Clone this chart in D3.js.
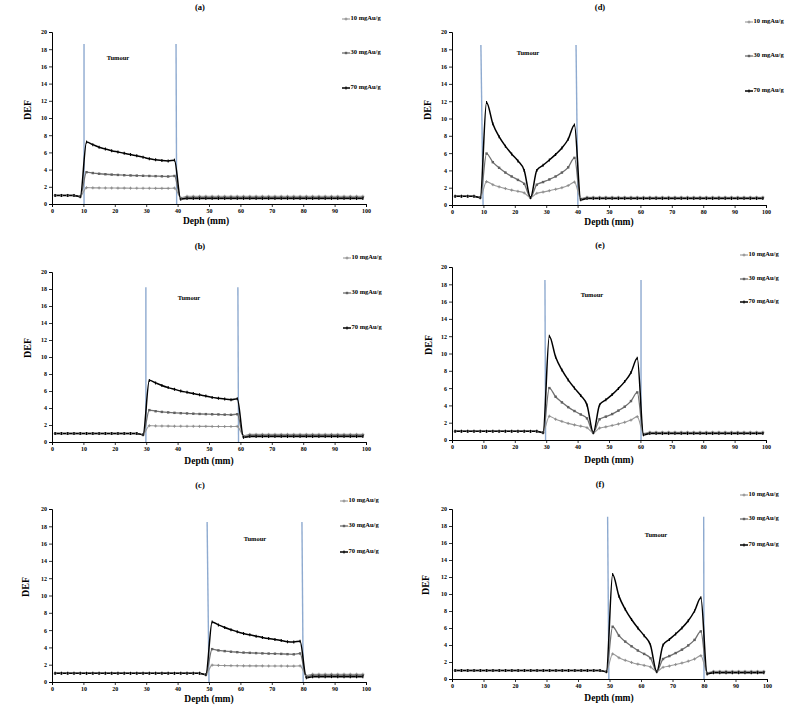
<!DOCTYPE html>
<html><head><meta charset="utf-8">
<script src="https://cdn.jsdelivr.net/npm/d3@7/dist/d3.min.js"></script>
<style>
html,body{margin:0;padding:0;background:#fff;}
svg{display:block;}
text{font-family:"Liberation Serif","Times New Roman",serif;font-weight:bold;fill:#000;}
</style></head>
<body>
<svg id="chart" width="800" height="708"></svg>
<script>
// ---------- data ----------
const depth = [1,3,5,7,9,11,13,15,17,19, 21,23,25,27,29,31,33,35,37,39,
               41,43,45,47,49,51,53,55,57,59, 61,63,65,67,69,71,73,75,77,79,
               81,83,85,87,89,91,93,95,97,99];
const seriesNames = ["10 mgAu/g","30 mgAu/g","70 mgAu/g"];
const xTicks = [0,10,20,30,40,50,60,70,80,90,100];
const yTicks = [0,2,4,6,8,10,12,14,16,18,20];
const panelLabels = ["(a)","(b)","(c)","(d)","(e)","(f)"];
const xAxisTitles = ["Deph (mm)","Depth (mm)","Depth (mm)","Depth (mm)","Depth (mm)","Depth (mm)"];

// Panel (a): tumour 10-40
const a10 = [1,1,1,1,0.88,1.9,1.88,1.87,1.86,1.86,
             1.85,1.85,1.84,1.84,1.83,1.83,1.82,1.82,1.82,1.85,
             0.75,0.9,0.9,0.9,0.9,0.9,0.9,0.9,0.9,0.9,
             0.9,0.9,0.9,0.9,0.9,0.9,0.9,0.9,0.9,0.9,
             0.9,0.9,0.9,0.9,0.9,0.9,0.9,0.9,0.9,0.9];
const a30 = [1,1,1,1,0.85,3.7,3.6,3.52,3.46,3.42,
             3.38,3.35,3.32,3.3,3.28,3.26,3.24,3.22,3.2,3.26,
             0.6,0.78,0.78,0.78,0.78,0.78,0.78,0.78,0.78,0.78,
             0.78,0.78,0.78,0.78,0.78,0.78,0.78,0.78,0.78,0.78,
             0.78,0.78,0.78,0.78,0.78,0.78,0.78,0.78,0.78,0.78];
const a70 = [1,1,1,1,0.85,7.2,6.9,6.6,6.4,6.2,
             6.05,5.9,5.75,5.6,5.45,5.25,5.15,5.05,5.0,5.1,
             0.55,0.65,0.65,0.65,0.65,0.65,0.65,0.65,0.65,0.65,
             0.65,0.65,0.65,0.65,0.65,0.65,0.65,0.65,0.65,0.65,
             0.65,0.65,0.65,0.65,0.65,0.65,0.65,0.65,0.65,0.65];
// Panel (b): tumour 30-60
const b10 = [1,1,1,1,1,1,1,1,1,1,
             1,1,1,1,0.88,1.92,1.89,1.88,1.87,1.86,
             1.86,1.85,1.85,1.84,1.84,1.83,1.83,1.82,1.82,1.84,
             0.75,0.9,0.9,0.9,0.9,0.9,0.9,0.9,0.9,0.9,
             0.9,0.9,0.9,0.9,0.9,0.9,0.9,0.9,0.9,0.9];
const b30 = [1,1,1,1,1,1,1,1,1,1,
             1,1,1,1,0.85,3.75,3.62,3.54,3.48,3.43,
             3.39,3.36,3.33,3.3,3.28,3.26,3.24,3.22,3.2,3.27,
             0.6,0.78,0.78,0.78,0.78,0.78,0.78,0.78,0.78,0.78,
             0.78,0.78,0.78,0.78,0.78,0.78,0.78,0.78,0.78,0.78];
const b70 = [1,1,1,1,1,1,1,1,1,1,
             1,1,1,1,0.85,7.25,6.95,6.65,6.4,6.2,
             6.0,5.85,5.7,5.55,5.4,5.25,5.15,5.05,4.98,5.1,
             0.55,0.65,0.65,0.65,0.65,0.65,0.65,0.65,0.65,0.65,
             0.65,0.65,0.65,0.65,0.65,0.65,0.65,0.65,0.65,0.65];
// Panel (c): tumour 50-80
const c10 = [1,1,1,1,1,1,1,1,1,1,
             1,1,1,1,1,1,1,1,1,1,
             1,1,1,1,0.88,1.95,1.92,1.9,1.89,1.88,
             1.87,1.87,1.86,1.86,1.85,1.85,1.85,1.84,1.84,1.87,
             0.75,0.9,0.9,0.9,0.9,0.9,0.9,0.9,0.9,0.9];
const c30 = [1,1,1,1,1,1,1,1,1,1,
             1,1,1,1,1,1,1,1,1,1,
             1,1,1,1,0.85,3.8,3.65,3.57,3.5,3.45,
             3.4,3.37,3.34,3.31,3.29,3.27,3.25,3.22,3.2,3.3,
             0.6,0.78,0.78,0.78,0.78,0.78,0.78,0.78,0.78,0.78];
const c70 = [1,1,1,1,1,1,1,1,1,1,
             1,1,1,1,1,1,1,1,1,1,
             1,1,1,1,0.85,6.95,6.6,6.3,6.05,5.8,
             5.6,5.45,5.3,5.15,5.02,4.92,4.8,4.65,4.62,4.72,
             0.5,0.62,0.62,0.62,0.62,0.62,0.62,0.62,0.62,0.62];
// Panel (d): tumour 10-40, minimum at 25
const d10 = [1,1,1,1,0.88,2.7,2.35,2.1,1.9,1.72,
             1.58,1.4,0.85,1.35,1.5,1.65,1.82,2.0,2.25,2.65,
             0.75,0.9,0.9,0.9,0.9,0.9,0.9,0.9,0.9,0.9,
             0.9,0.9,0.9,0.9,0.9,0.9,0.9,0.9,0.9,0.9,
             0.9,0.9,0.9,0.9,0.9,0.9,0.9,0.9,0.9,0.9];
const d30 = [1,1,1,1,0.85,5.95,4.95,4.3,3.75,3.3,
             2.9,2.45,0.85,2.35,2.65,2.95,3.3,3.75,4.35,5.45,
             0.65,0.82,0.82,0.82,0.82,0.82,0.82,0.82,0.82,0.82,
             0.82,0.82,0.82,0.82,0.82,0.82,0.82,0.82,0.82,0.82,
             0.82,0.82,0.82,0.82,0.82,0.82,0.82,0.82,0.82,0.82];
const d70 = [1,1,1,1,0.85,11.85,9.4,7.9,6.8,5.9,
             5.1,4.0,0.85,4.0,4.6,5.2,5.85,6.6,7.6,9.25,
             0.6,0.75,0.75,0.75,0.75,0.75,0.75,0.75,0.75,0.75,
             0.75,0.75,0.75,0.75,0.75,0.75,0.75,0.75,0.75,0.75,
             0.75,0.75,0.75,0.75,0.75,0.75,0.75,0.75,0.75,0.75];
// Panel (e): tumour 30-60, minimum at 45
const e10 = [1,1,1,1,1,1,1,1,1,1,
             1,1,1,1,0.88,2.75,2.4,2.15,1.92,1.75,
             1.6,1.42,0.85,1.38,1.52,1.68,1.85,2.05,2.3,2.7,
             0.75,0.9,0.9,0.9,0.9,0.9,0.9,0.9,0.9,0.9,
             0.9,0.9,0.9,0.9,0.9,0.9,0.9,0.9,0.9,0.9];
const e30 = [1,1,1,1,1,1,1,1,1,1,
             1,1,1,1,0.85,6.0,5.0,4.35,3.8,3.35,
             2.95,2.5,0.85,2.4,2.7,3.0,3.4,3.85,4.5,5.5,
             0.65,0.82,0.82,0.82,0.82,0.82,0.82,0.82,0.82,0.82,
             0.82,0.82,0.82,0.82,0.82,0.82,0.82,0.82,0.82,0.82];
const e70 = [1,1,1,1,1,1,1,1,1,1,
             1,1,1,1,0.85,12.0,9.6,8.1,6.95,6.0,
             5.15,4.05,0.85,4.05,4.65,5.25,5.95,6.75,7.8,9.45,
             0.6,0.75,0.75,0.75,0.75,0.75,0.75,0.75,0.75,0.75,
             0.75,0.75,0.75,0.75,0.75,0.75,0.75,0.75,0.75,0.75];
// Panel (f): tumour 50-80, minimum at 65
const f10 = [1,1,1,1,1,1,1,1,1,1,
             1,1,1,1,1,1,1,1,1,1,
             1,1,1,1,0.88,2.95,2.5,2.2,1.95,1.75,
             1.6,1.42,0.9,1.38,1.52,1.7,1.88,2.1,2.35,2.75,
             0.75,0.9,0.9,0.9,0.9,0.9,0.9,0.9,0.9,0.9];
const f30 = [1,1,1,1,1,1,1,1,1,1,
             1,1,1,1,1,1,1,1,1,1,
             1,1,1,1,0.85,6.15,5.1,4.4,3.85,3.35,
             2.95,2.45,0.9,2.35,2.7,3.05,3.45,3.95,4.6,5.6,
             0.65,0.82,0.82,0.82,0.82,0.82,0.82,0.82,0.82,0.82];
const f70 = [1,1,1,1,1,1,1,1,1,1,
             1,1,1,1,1,1,1,1,1,1,
             1,1,1,1,0.85,12.3,9.75,8.2,7.0,6.0,
             5.1,4.0,0.85,4.0,4.65,5.3,6.0,6.85,8.0,9.55,
             0.6,0.75,0.75,0.75,0.75,0.75,0.75,0.75,0.75,0.75];

// tumour boundary lines: [x at top, x at bottom], top DEF value
const boundA = [[10.2,10.2],[39.5,39.7]], boundTopA = 18.6;
const boundB = [[29.9,29.9],[59.2,59.4]], boundTopB = 18.2;
const boundC = [[49.4,50.0],[79.6,80.0]], boundTopC = 18.5;
const boundD = [[9.2,9.9],[39.5,40.1]], boundTopD = 18.5;
const boundE = [[29.6,29.8],[60.2,60.2]], boundTopE = 18.5;
const boundF = [[49.4,49.8],[79.9,80.0]], boundTopF = 19.1;

// ---------- layout (pixel positions) ----------
const layout = [
 {s:[a10,a30,a70], b:boundA, bt:boundTopA, L:52, R:366, T:32,  B:204, title:[200,8],   leg:[342,[19,53,88]],    tum:[118,59],  def:[29,110], xl:[206,222]},
 {s:[b10,b30,b70], b:boundB, bt:boundTopB, L:52, R:366, T:272, B:442, title:[200,247], leg:[343,[258,293,328]], tum:[189,299], def:[29,348], xl:[209,462]},
 {s:[c10,c30,c70], b:boundC, bt:boundTopC, L:52, R:366, T:509, B:682, title:[200,486], leg:[340,[501,526,552]], tum:[255,540], def:[27,587], xl:[209,700]},
 {s:[d10,d30,d70], b:boundD, bt:boundTopD, L:452,R:766, T:32,  B:205, title:[600,8],   leg:[745,[22,56,91]],    tum:[528,54],  def:[429,110],xl:[609,223]},
 {s:[e10,e30,e70], b:boundE, bt:boundTopE, L:452,R:766, T:267, B:440, title:[600,246], leg:[740,[255,279,302]], tum:[592,296], def:[430,345],xl:[609,461]},
 {s:[f10,f30,f70], b:boundF, bt:boundTopF, L:452,R:767, T:509, B:679, title:[600,485], leg:[740,[495,519,545]], tum:[656,536], def:[427,585],xl:[609,699]}
];

const styles = [
 {color:"#9a9a9a", width:1.1, marker:"plus",   mcolor:"#8a8a8a"},
 {color:"#707070", width:1.3, marker:"square", mcolor:"#606060"},
 {color:"#000000", width:1.5, marker:"tick",   mcolor:"#000000"}
];

const svg = d3.select("#chart");

function drawMarker(g, kind, cx, cy, color){
  if(kind==="plus"){
    g.append("path").attr("d",`M${cx-1.5},${cy}H${cx+1.5}M${cx},${cy-1.5}V${cy+1.5}`)
     .attr("stroke",color).attr("stroke-width",0.9).attr("fill","none");
  } else if(kind==="square"){
    g.append("rect").attr("x",cx-1.2).attr("y",cy-1.2).attr("width",2.4).attr("height",2.4)
     .attr("fill",color);
  } else {
    g.append("path").attr("d",`M${cx},${cy-1.5}V${cy+1.5}`)
     .attr("stroke",color).attr("stroke-width",1.1).attr("fill","none");
  }
}

layout.forEach((p,pi)=>{
  const g = svg.append("g");
  const x = d3.scaleLinear().domain([0,100]).range([p.L,p.R]);
  const y = d3.scaleLinear().domain([0,20]).range([p.B,p.T]);

  // axes
  const ya = g.append("g").attr("transform",`translate(${p.L},0)`)
    .call(d3.axisLeft(y).tickValues(yTicks).tickSize(3).tickPadding(2).tickFormat(d3.format("d")));
  const xa = g.append("g").attr("transform",`translate(0,${p.B})`)
    .call(d3.axisBottom(x).tickValues(xTicks).tickSize(3).tickPadding(1.5).tickFormat(d3.format("d")));
  [ya,xa].forEach(a=>{
    a.selectAll("path.domain").attr("stroke","#000").attr("stroke-width",1);
    a.selectAll(".tick line").attr("stroke","#000").attr("stroke-width",0.8);
    a.selectAll(".tick text").attr("font-size","6px").attr("font-weight","bold")
      .attr("font-family","Liberation Serif, Times New Roman, serif").attr("fill","#000");
  });

  // tumour boundary lines
  p.b.forEach(bb=>{
    g.append("line").attr("x1",x(bb[0])).attr("y1",y(p.bt)).attr("x2",x(bb[1])).attr("y2",y(0))
     .attr("stroke","#8eaad0").attr("stroke-width",1.4);
  });

  // series
  const line = d3.line().x((d,i)=>x(depth[i])).y(d=>y(d)).curve(d3.curveMonotoneX);
  p.s.forEach((vals,si)=>{
    const st = styles[si];
    g.append("path").datum(vals).attr("d",line).attr("fill","none")
      .attr("stroke",st.color).attr("stroke-width",st.width).attr("stroke-linejoin","round");
  });
  p.s.forEach((vals,si)=>{
    const st = styles[si];
    const mg = g.append("g");
    vals.forEach((v,i)=>drawMarker(mg, st.marker, x(depth[i]), y(v), st.mcolor));
  });

  // texts
  g.append("text").attr("x",p.title[0]).attr("y",p.title[1]).attr("text-anchor","middle")
    .attr("dominant-baseline","middle").attr("font-size","8.5px").text(panelLabels[pi]);
  g.append("text").attr("x",p.tum[0]).attr("y",p.tum[1]).attr("text-anchor","middle")
    .attr("dominant-baseline","middle").attr("font-size","6.5px").text("Tumour");
  g.append("text").attr("transform",`translate(${p.def[0]},${p.def[1]}) rotate(-90)`)
    .attr("text-anchor","middle").attr("dominant-baseline","middle").attr("font-size","10px").text("DEF");
  g.append("text").attr("x",p.xl[0]).attr("y",p.xl[1]).attr("text-anchor","middle")
    .attr("dominant-baseline","middle").attr("font-size","9.5px").text(xAxisTitles[pi]);

  // legend
  seriesNames.forEach((nm,si)=>{
    const st = styles[si];
    const lx = p.leg[0], ly = p.leg[1][si];
    g.append("line").attr("x1",lx).attr("x2",lx+8).attr("y1",ly).attr("y2",ly)
      .attr("stroke",st.color).attr("stroke-width",st.width);
    drawMarker(g, st.marker, lx+4, ly, st.mcolor);
    g.append("text").attr("x",lx+8.5).attr("y",ly).attr("dominant-baseline","middle")
      .attr("font-size","6.5px").text(nm);
  });
});
</script>
</body></html>
